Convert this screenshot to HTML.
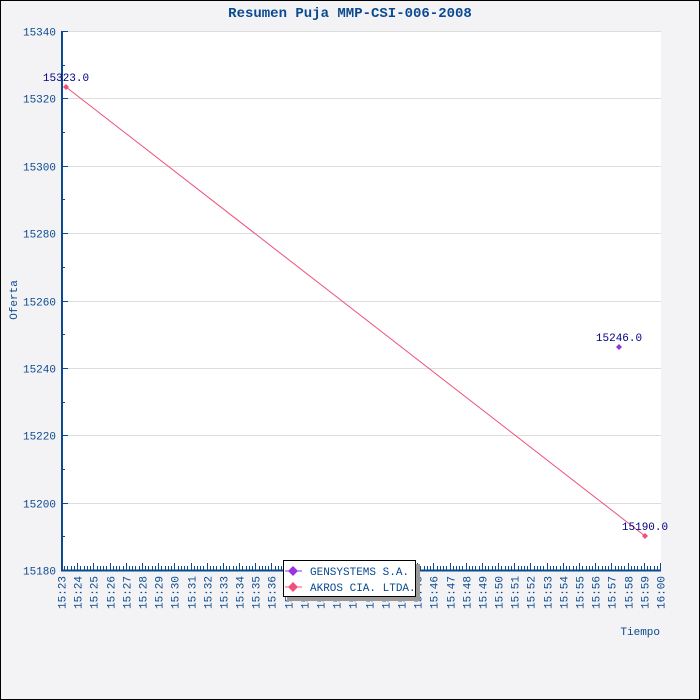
<!DOCTYPE html>
<html><head><meta charset="utf-8"><style>
html,body{margin:0;padding:0;background:#f3f3f5}
svg{display:block}
text{font-family:"Liberation Mono","DejaVu Sans Mono",monospace}
</style></head><body>
<svg id="s" width="700" height="700" xmlns="http://www.w3.org/2000/svg">
<rect x="0.5" y="0.5" width="699" height="699" fill="#f3f3f5" stroke="#000"/>
<rect x="61" y="31" width="600" height="539" fill="#fff"/>
<text x="350" y="17" text-anchor="middle" font-size="14" font-weight="bold" fill="#0b4a8f">Resumen Puja MMP-CSI-006-2008</text>
<g id="grid" stroke="#dddddd" stroke-width="1"></g>
<g id="ax" stroke="#0b4a8f"></g>
<g id="lab" fill="#0b4a8f" font-size="11"></g>
<text x="17" y="300" font-size="11" fill="#0b4a8f" transform="rotate(-90 17 300)" text-anchor="middle">Oferta</text>
<text x="660" y="635" font-size="11" fill="#0b4a8f" text-anchor="end">Tiempo</text>
<line x1="66" y1="87" x2="645" y2="536" stroke="#f0507a" stroke-width="1"/>
<path d="M66 84 L69 87 L66 90 L63 87Z" fill="#f0507a"/>
<path d="M645 533 L648 536 L645 539 L642 536Z" fill="#f0507a"/>
<path d="M619 344 L622 347 L619 350 L616 347Z" fill="#9933dd"/>
<text x="66" y="81" font-size="11" fill="#000080" text-anchor="middle">15323.0</text>
<text x="619" y="341" font-size="11" fill="#000080" text-anchor="middle">15246.0</text>
<text x="645" y="530" font-size="11" fill="#000080" text-anchor="middle">15190.0</text>
<rect x="287" y="564" width="133" height="37" fill="#999"/>
<rect x="283.5" y="560.5" width="132" height="36" fill="#fff" stroke="#000"/>
<line x1="285" y1="571" x2="302" y2="571" stroke="#9933dd"/>
<path d="M293 566 L298 571 L293 576 L288 571Z" fill="#9933dd"/>
<line x1="285" y1="587" x2="302" y2="587" stroke="#f0507a"/>
<path d="M293 582 L298 587 L293 592 L288 587Z" fill="#f0507a"/>
<text x="310" y="575" font-size="11" fill="#0b4a8f">GENSYSTEMS S.A.</text>
<text x="310" y="591" font-size="11" fill="#0b4a8f">AKROS CIA. LTDA.</text>
</svg>
<script>
var ns="http://www.w3.org/2000/svg";
function el(p,t,a,txt){var e=document.createElementNS(ns,t);for(var k in a)e.setAttribute(k,a[k]);if(txt)e.textContent=txt;document.getElementById(p).appendChild(e);}
var y0=31,y1=570;
for(var v=15180;v<=15340;v+=10){var y=y1-(v-15180)*(y1-y0)/160;y=Math.round(y)+0.5;
 if(v%20==0){if(v>15180)el("grid","line",{x1:61,x2:661,y1:y,y2:y});
  el("ax","line",{x1:61,x2:68,y1:y,y2:y,"stroke-width":1});
  el("lab","text",{x:56,y:y+4,"text-anchor":"end"},String(v));}
 else el("ax","line",{x1:61,x2:65,y1:y,y2:y,"stroke-width":1});}
el("ax","line",{x1:62,x2:62,y1:31,y2:571,"stroke-width":2});
el("ax","line",{x1:61,x2:661,y1:570.5,y2:570.5,"stroke-width":2});
var pm=599/37;
for(var i=0;i<=37*5;i++){var x=Math.round(61+i*pm/5)+0.5;var maj=i%5==0;
 el("ax","line",{x1:x,x2:x,y1:maj?563:566,y2:570,"stroke-width":1});
 if(maj){var m=23+i/5;var h=15+Math.floor(m/60);m=m%60;var s=h+":"+(m<10?"0":"")+m;
  el("lab","text",{x:0,y:0,transform:"translate("+(x+4)+",609) rotate(-90)"},s);}}
</script>
</body></html>
